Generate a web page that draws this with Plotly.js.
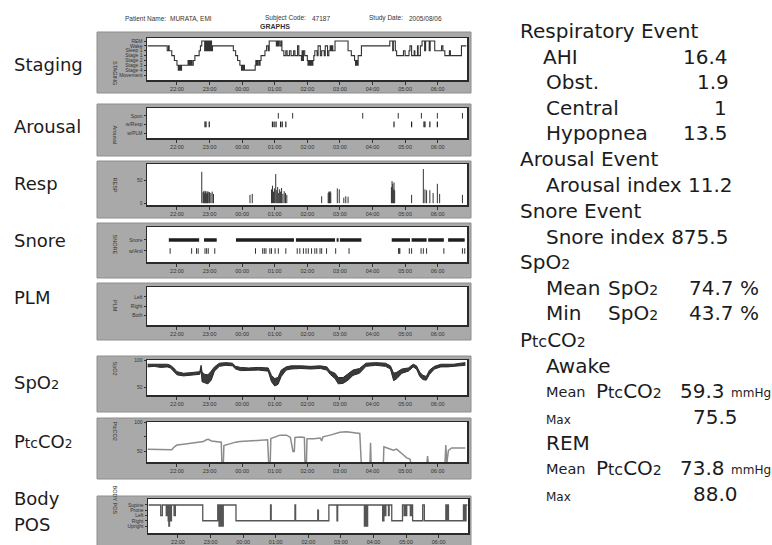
<!DOCTYPE html>
<html>
<head>
<meta charset="utf-8">
<script src="https://cdn.plot.ly/plotly-3.0.1.min.js"></script>
<style>html,body{margin:0;padding:0;background:#fff;}#chart{width:772px;height:545px;}</style>
</head>
<body>
<div id="chart"></div>
<script>
// ---------- data (time in hours; 24 = 00:00, 30 = 06:00) ----------
var hourTicks = [22, 23, 24, 25, 26, 27, 28, 29, 30];
var hourLabels = ['22:00', '23:00', '00:00', '01:00', '02:00', '03:00', '04:00', '05:00', '06:00'];

var stageLabels = ['Movement', 'Stage 4', 'Stage 3', 'Stage 2', 'Stage 1', 'Sleep 1', 'Wake', 'REM'];
var stageT = [21.10, 21.70, 21.74, 21.76, 21.84, 21.92, 22.00, 22.04, 22.06, 22.08, 22.10, 22.12, 22.14, 22.30, 22.34, 22.36, 22.38, 22.40, 22.43, 22.46, 22.50, 22.55, 22.68, 22.72, 22.76, 22.85, 22.87, 22.90, 22.92, 22.95, 22.97, 23.00, 23.03, 23.06, 23.09,
  23.73, 23.80, 23.86, 23.93, 23.98, 24.00, 24.02, 24.05, 24.07, 24.40, 24.42, 24.45, 24.48, 24.52, 24.55, 24.58, 24.70, 24.75, 24.80, 24.83, 25.05, 25.07, 25.10, 25.12, 25.16, 25.20, 25.22,
  25.28, 25.34, 25.38, 25.45, 25.50, 25.58, 25.62, 25.70, 25.74, 25.82, 25.84, 25.86, 25.88, 25.92, 26.00, 26.02, 26.05, 26.08, 26.11, 26.14, 26.17, 26.20, 26.23, 26.30, 26.33, 26.40, 26.44, 26.52, 26.55, 26.62, 26.66, 26.70, 26.72, 26.75, 26.78, 26.85,
  27.25, 27.35, 27.45, 27.48, 27.51, 27.54, 27.56, 27.66,
  28.53, 28.62, 28.64, 28.70, 28.74, 28.95, 29.00, 29.12, 29.15, 29.20, 29.28, 29.30, 29.38, 29.40, 29.47, 29.52, 29.60, 29.63, 29.74, 29.77, 29.91, 30.12, 30.16, 30.22, 30.36, 30.39, 30.73, 30.88];
var stageL = [6, 5, 6, 5, 4, 3, 2, 1, 2, 1, 2, 1, 2, 2, 3, 2, 3, 2, 3, 2, 3, 4, 5, 6, 7, 5, 7, 5, 7, 5, 7, 5, 7, 5, 6,
  5, 4, 3, 2, 1, 2, 1, 2, 1, 2, 3, 2, 3, 2, 3, 4, 5, 6, 5, 7, 6, 7, 6, 7, 6, 7, 5,
  4, 5, 4, 5, 4, 5, 4, 6, 4, 3, 5, 3, 5, 4, 3, 2, 3, 2, 3, 2, 3, 4, 5, 4, 6, 4, 5, 4, 6, 4, 5, 6, 5, 6, 5, 7,
  5, 4, 3, 2, 3, 2, 4, 6,
  7, 5, 7, 5, 4, 5, 4, 5, 6, 4, 5, 4, 6, 4, 6, 7, 5, 7, 5, 7, 5, 6, 5, 4, 5, 4, 6, 6];

var arousalLabels = ['w/PLM', 'w/Resp', 'Spon'];
var sponT = [25.11, 25.55, 27.70, 28.79, 29.50, 29.99, 30.76];
var arRespT = [22.86, 22.89, 22.99, 24.93, 24.98, 25.04, 25.18, 25.23, 25.34, 28.66, 29.20, 29.58, 29.61, 29.76, 29.99];

var respT = [22.76, 22.80, 22.82, 22.84, 22.86, 22.88, 22.90, 22.92, 22.94, 22.96, 23.00, 23.04, 23.08, 23.12, 24.24, 24.31,
  24.90, 24.93, 24.96, 24.99, 25.03, 25.06, 25.09, 25.12, 25.15, 25.18, 25.21, 25.25, 25.29, 25.33, 25.37,
  26.44, 26.64, 26.66, 26.68, 26.70, 26.72, 26.92, 26.98, 27.12, 27.18, 27.25,
  28.58, 28.60, 28.62, 28.64, 28.66, 28.68, 29.20, 29.56, 29.61, 29.66, 29.76, 29.86, 29.99, 30.06, 30.76];
var respH = [68, 24, 26, 22, 27, 25, 20, 26, 23, 25, 24, 22, 25, 20, 18, 20,
  30, 38, 25, 32, 63, 28, 35, 22, 30, 25, 33, 20, 26, 22, 18,
  15, 22, 25, 24, 26, 23, 32, 30, 12, 15, 14,
  35, 48, 42, 30, 45, 28, 18, 74, 30, 28, 28, 22, 42, 20, 18];

var snoreLabels = ['w/Arsl', 'Snore'];
var snoreStart = [21.75, 22.83, 23.81, 25.65, 26.90, 27.00, 28.59, 29.20, 29.71, 30.32];
var snoreEnd = [22.68, 23.22, 25.59, 26.85, 26.96, 27.66, 29.15, 29.66, 30.19, 30.83];
var snoreArslT = [21.79, 22.45, 22.60, 22.65, 22.86, 22.91, 22.96, 23.16, 24.41, 24.63, 24.68, 24.73, 24.85, 24.90, 25.01, 25.11, 25.34,
  25.69, 25.77, 25.88, 25.96, 26.03, 26.13, 26.23, 26.29, 26.39, 26.44, 26.59, 26.87, 27.28, 28.80, 28.82, 28.84, 29.13, 29.20, 29.49, 29.56, 29.66, 30.19, 30.76, 30.83];

var plmLabels = ['Both', 'Right', 'Left'];

var spo2T = [21.10, 21.30, 21.50, 21.70, 21.80, 21.90, 22.00, 22.20, 22.40, 22.55, 22.70, 22.74, 22.77, 22.85, 22.95, 23.05, 23.15, 23.30, 23.50, 23.70, 23.80, 23.95, 24.20, 24.50, 24.80, 24.90, 25.00, 25.10, 25.20, 25.35, 25.50, 25.80, 26.10, 26.40, 26.60, 26.70, 26.85, 26.95, 27.10, 27.25, 27.40, 27.60, 27.80, 28.10, 28.40, 28.55, 28.65, 28.75, 28.90, 29.10, 29.25, 29.35, 29.45, 29.55, 29.65, 29.75, 29.90, 30.10, 30.30, 30.50, 30.70, 30.85];
var spo2Lo = [88, 89, 87, 88, 86, 80, 73, 71, 72, 73, 74, 84, 60, 58, 56, 63, 80, 89, 91, 90, 84, 81, 81, 82, 80, 60, 52, 55, 70, 82, 84, 85, 84, 85, 82, 74, 66, 56, 57, 63, 72, 76, 89, 91, 89, 84, 62, 66, 76, 80, 88, 84, 70, 64, 63, 74, 84, 88, 88, 89, 90, 91];
var spo2Hi = [93, 93, 92, 93, 91, 86, 79, 76, 77, 78, 79, 91, 78, 74, 73, 80, 88, 95, 96, 95, 89, 87, 86, 87, 86, 72, 66, 68, 82, 88, 90, 90, 89, 90, 88, 80, 76, 68, 68, 75, 82, 85, 95, 96, 95, 90, 76, 78, 84, 86, 93, 90, 78, 72, 70, 82, 89, 93, 93, 93, 95, 96];

var co2T = [21.10, 21.30, 21.50, 21.70, 21.84, 21.92, 22.00, 22.20, 22.40, 22.60, 22.81, 22.90, 22.96, 23.06, 23.20, 23.36, 23.38, 23.42, 23.44, 23.60, 23.80, 23.93, 24.20, 24.50, 24.78, 24.82, 24.86, 24.88, 25.00, 25.16, 25.36, 25.48, 25.56, 25.60, 25.62, 25.80, 25.91, 25.93, 25.97, 25.99, 26.20, 26.40, 26.44, 26.48, 26.70, 27.00, 27.20, 27.40, 27.61, 27.66, 27.92, 27.94, 27.96, 28.33, 28.35, 28.45, 28.64, 28.74, 28.84, 28.95, 29.05, 29.15, 29.20, 29.66, 29.69, 29.72, 30.22, 30.25, 30.28, 30.33, 30.43, 30.60, 30.85];
var co2V = [54, 53.5, 53, 52.5, 53, 58, 61, 62.5, 64, 65.5, 67, 70, 71, 68, 67, 66, 25, 25, 60, 63, 66, 67, 68, 69, 70, 25, 25, 72, 75, 78, 78, 74, 50, 50, 74, 75, 74, 25, 25, 72, 72, 73, 68, 75, 78, 83, 84, 82, 81, 25, 25, 65, 25, 25, 58, 56, 52, 54, 50, 44, 39, 37, 25, 25, 42, 25, 25, 61, 30, 52, 56, 56, 56];

var bodyLabels = ['Upright', 'Right', 'Left', 'Prone', 'Supine'];
var bodyT = [21.10, 21.47, 21.52, 21.64, 21.66, 21.70, 21.72, 21.74, 21.78, 21.80, 21.88, 21.92, 22.76, 23.22, 23.26, 23.28, 23.31, 23.33, 23.36, 23.39, 23.78, 24.84, 24.86, 25.59, 25.61, 26.29, 26.31, 26.63, 26.88, 26.90, 27.72, 27.74, 27.76, 27.78, 27.80, 27.82, 28.28, 28.32, 28.36, 28.38, 28.46, 28.48, 28.56, 28.89, 28.94, 28.97, 29.00, 29.02, 29.13, 29.16, 29.20, 29.51, 29.56, 30.22, 30.25, 30.28, 30.30, 30.76, 30.80, 30.84, 30.88];
var bodyL = [4, 2, 4, 2, 4, 1, 0, 4, 1, 4, 2, 4, 1, 4, 0, 4, 0, 4, 0, 4, 1, 4, 1, 4, 1, 3, 1, 4, 1, 4, 0, 4, 0, 4, 0, 4, 1, 4, 2, 4, 2, 4, 1, 4, 2, 4, 2, 4, 2, 4, 1, 4, 1, 4, 1, 4, 1, 4, 1, 4, 4];

// ---------- layout helpers ----------
var W = 772, H = 545;
function X(p) { return p / W; }
function Y(p) { return 1 - p / H; }

var panels = [
  {top: 38, bot: 80, x0: 147, x1: 467, ft: 32, fb: 93, title: 'STAGING'},
  {top: 108, bot: 138, x0: 147, x1: 467, ft: 104, fb: 156, title: 'Arousal'},
  {top: 164, bot: 205, x0: 147, x1: 467, ft: 161, fb: 218, title: 'RESP'},
  {top: 227, bot: 262, x0: 147, x1: 467, ft: 223, fb: 278, title: 'SNORE'},
  {top: 287, bot: 325, x0: 147, x1: 467, ft: 283, fb: 340, title: 'PLM'},
  {top: 360, bot: 395, x0: 147, x1: 467, ft: 356, fb: 412, title: 'SpO2'},
  {top: 422, bot: 462, x0: 147, x1: 467, ft: 418, fb: 479, title: 'PtcCO2'},
  {top: 499, bot: 533, x0: 148, x1: 468, ft: 496, fb: 548, title: 'BODY POS'}
];

var tickFont = {family: 'Liberation Sans, Arial, sans-serif', size: 5.5, color: '#333'};
var layout = {
  width: W, height: H,
  margin: {l: 0, r: 0, t: 0, b: 0},
  paper_bgcolor: '#ffffff',
  plot_bgcolor: 'rgba(0,0,0,0)',
  showlegend: false,
  shapes: [],
  annotations: []
};

var yCfg = [
  {range: [-1.03, 7.62], tickvals: [0, 1, 2, 3, 4, 5, 6, 7], ticktext: stageLabels},
  {range: [-0.58, 2.9], tickvals: [0, 1, 2], ticktext: arousalLabels},
  {range: [-4, 85], tickvals: [0, 50], ticktext: ['0', '50']},
  {range: [-1, 2.18], tickvals: [0, 1], ticktext: snoreLabels},
  {range: [-1, 3.07], tickvals: [0, 1, 2], ticktext: plmLabels},
  {range: [35, 101], tickvals: [50, 100], ticktext: ['50', '100']},
  {range: [32, 100.5], tickvals: [50, 75, 100], ticktext: ['50', '', '100']},
  {range: [-1.33, 5.14], tickvals: [0, 1, 2, 3, 4], ticktext: bodyLabels}
];

panels.forEach(function (p, i) {
  var n = i === 0 ? '' : String(i + 1);
  layout['xaxis' + n] = {
    domain: [X(p.x0), X(p.x1)], anchor: 'y' + n,
    range: [21.08, 30.9], tickvals: hourTicks, ticktext: hourLabels,
    ticks: 'outside', ticklen: 3, tickwidth: 1, tickcolor: '#333',
    tickfont: tickFont, showgrid: false, zeroline: false,
    showline: true, linecolor: '#2a2a2a', linewidth: 1.5, mirror: true, fixedrange: true
  };
  var yc = yCfg[i];
  layout['yaxis' + n] = {
    domain: [Y(p.bot), Y(p.top)], anchor: 'x' + n,
    range: yc.range, tickvals: yc.tickvals, ticktext: yc.ticktext,
    ticks: 'outside', ticklen: 2, tickwidth: 1, tickcolor: '#333',
    tickfont: {family: 'Liberation Sans, Arial, sans-serif', size: 5, color: '#333'},
    showgrid: false, zeroline: false,
    showline: true, linecolor: '#2a2a2a', linewidth: 1.5, mirror: true, fixedrange: true
  };
  layout.shapes.push({type: 'rect', xref: 'paper', yref: 'paper', layer: 'below',
    x0: X(97), x1: X(471), y0: Y(p.fb), y1: Y(p.ft),
    fillcolor: '#a9a9a9', line: {color: '#8e8e8e', width: 1}});
  layout.shapes.push({type: 'rect', xref: 'paper', yref: 'paper', layer: 'below',
    x0: X(p.x0), x1: X(p.x1), y0: Y(p.bot), y1: Y(p.top),
    fillcolor: '#ffffff', line: {width: 0}});
  layout.annotations.push({xref: 'paper', yref: 'paper', x: X(110), y: Y((p.top + p.bot) / 2),
    text: p.title, textangle: 90, showarrow: false,
    font: {family: 'Liberation Sans, Arial, sans-serif', size: 5.5, color: '#333'}});
});

// ---------- traces ----------
var traces = [];
traces.push({type: 'scatter', mode: 'lines', x: stageT, y: stageL, xaxis: 'x', yaxis: 'y',
  line: {shape: 'hv', color: '#333', width: 1.1}, hoverinfo: 'skip'});

traces.push({type: 'scatter', mode: 'markers', x: sponT, y: sponT.map(function () { return 2; }), xaxis: 'x2', yaxis: 'y2',
  marker: {symbol: 'line-ns', size: 4, line: {color: '#333', width: 1}}, hoverinfo: 'skip'});
traces.push({type: 'scatter', mode: 'markers', x: arRespT, y: arRespT.map(function () { return 1; }), xaxis: 'x2', yaxis: 'y2',
  marker: {symbol: 'line-ns', size: 4, line: {color: '#222', width: 1.2}}, hoverinfo: 'skip'});

var rx = [], ry = [];
respT.forEach(function (t, i) { rx.push(t, t, null); ry.push(0, respH[i], null); });
traces.push({type: 'scatter', mode: 'lines', x: rx, y: ry, xaxis: 'x3', yaxis: 'y3',
  line: {color: '#333', width: 1}, hoverinfo: 'skip'});

var sx = [], sy = [];
snoreStart.forEach(function (s, i) { sx.push(s, snoreEnd[i], null); sy.push(1, 1, null); });
traces.push({type: 'scatter', mode: 'lines', x: sx, y: sy, xaxis: 'x4', yaxis: 'y4',
  line: {color: '#1e1e1e', width: 3.5}, hoverinfo: 'skip'});
traces.push({type: 'scatter', mode: 'markers', x: snoreArslT, y: snoreArslT.map(function () { return 0; }), xaxis: 'x4', yaxis: 'y4',
  marker: {symbol: 'line-ns', size: 4, line: {color: '#333', width: 1}}, hoverinfo: 'skip'});

traces.push({type: 'scatter', mode: 'lines', x: [], y: [], xaxis: 'x5', yaxis: 'y5', hoverinfo: 'skip'});

traces.push({type: 'scatter', mode: 'lines', x: spo2T, y: spo2Lo, xaxis: 'x6', yaxis: 'y6',
  line: {color: '#2a2a2a', width: 1}, hoverinfo: 'skip'});
traces.push({type: 'scatter', mode: 'lines', x: spo2T, y: spo2Hi, xaxis: 'x6', yaxis: 'y6', fill: 'tonexty',
  fillcolor: '#3a3a3a', line: {color: '#2a2a2a', width: 1}, hoverinfo: 'skip'});

traces.push({type: 'scatter', mode: 'lines', x: co2T, y: co2V, xaxis: 'x7', yaxis: 'y7',
  line: {color: '#8c8c8c', width: 1.5}, hoverinfo: 'skip'});

traces.push({type: 'scatter', mode: 'lines', x: bodyT, y: bodyL, xaxis: 'x8', yaxis: 'y8',
  line: {shape: 'hv', color: '#555', width: 1.3}, hoverinfo: 'skip'});

// ---------- texts ----------
var TF = 'DejaVu Sans, Noto Sans CJK JP, sans-serif';
var TC = '#1c1c1c';
function txt(x, y, s, size, anchor) {
  layout.annotations.push({xref: 'paper', yref: 'paper', x: X(x), y: Y(y), xanchor: anchor || 'left', yanchor: 'middle',
    text: s, showarrow: false, font: {family: TF, size: size, color: TC}});
}
function sub2(sz) { return '<span style="font-size:' + sz + 'px">2</span>'; }
function ptc(big) { return 'P<span style="font-size:' + Math.round(big * 0.8) + 'px">tc</span>CO' + sub2(Math.round(big * 0.68)); }

// header
var HF = {family: 'Liberation Sans, Arial, sans-serif', size: 6.5, color: '#333'};
[[123, 'Patient Name:'], [168, 'MURATA, EMI'], [263, 'Subject Code:'], [310, '47187'], [367, 'Study Date:'], [407, '2005/08/06']].forEach(function (h) {
  layout.annotations.push({xref: 'paper', yref: 'paper', x: X(h[0]), y: Y(18), xanchor: 'left', yanchor: 'middle', text: h[1], showarrow: false, font: HF});
});
layout.annotations.push({xref: 'paper', yref: 'paper', x: X(258), y: Y(26), xanchor: 'left', yanchor: 'middle', text: '<b>GRAPHS</b>', showarrow: false,
  font: {family: 'Liberation Sans, Arial, sans-serif', size: 7, color: '#333'}});

// left labels
var LS = 18;
txt(12, 64, 'Staging', LS); txt(12, 126, 'Arousal', LS); txt(12, 183, 'Resp', LS); txt(12, 241, 'Snore', LS);
txt(12, 297, 'PLM', LS); txt(12, 382, 'SpO' + sub2(13), LS); txt(12, 441, ptc(LS), LS); txt(12, 498, 'Body', LS); txt(12, 524, 'POS', LS);

// right summary
var RS = 20;
txt(518, 31, 'Respiratory Event', RS);
txt(541, 57, 'AHI', RS); txt(730, 57, '16.4', RS, 'right');
txt(544, 82, 'Obst.', RS); txt(731, 82, '1.9', RS, 'right');
txt(544, 108, 'Central', RS); txt(729, 108, '1', RS, 'right');
txt(544, 133, 'Hypopnea', RS); txt(730, 133, '13.5', RS, 'right');
txt(518, 159, 'Arousal Event', RS);
txt(544, 185, 'Arousal index 11.2', RS);
txt(518, 211, 'Snore Event', RS);
txt(544, 237, 'Snore index 875.5', RS);
txt(518, 262, 'SpO' + sub2(14), RS);
txt(544, 288, 'Mean', RS); txt(606, 288, 'SpO' + sub2(14), RS); txt(687, 288, '74.7 %', RS);
txt(544, 313, 'Min', RS); txt(606, 313, 'SpO' + sub2(14), RS); txt(687, 313, '43.7 %', RS);
txt(518, 340, ptc(RS), RS);
txt(544, 366, 'Awake', RS);
txt(544, 392, 'Mean', 14.5); txt(594, 391, ptc(RS), RS); txt(678, 391, '59.3', RS); txt(729, 393, 'mmHg', 12);
txt(544, 420, 'Max', 12); txt(691, 417, '75.5', RS);
txt(544, 443, 'REM', RS);
txt(544, 469, 'Mean', 14.5); txt(594, 468, ptc(RS), RS); txt(678, 468, '73.8', RS); txt(729, 470, 'mmHg', 12);
txt(544, 497, 'Max', 12); txt(691, 494, '88.0', RS);

Plotly.newPlot('chart', traces, layout, {displayModeBar: false, staticPlot: true});
</script>
</body>
</html>
